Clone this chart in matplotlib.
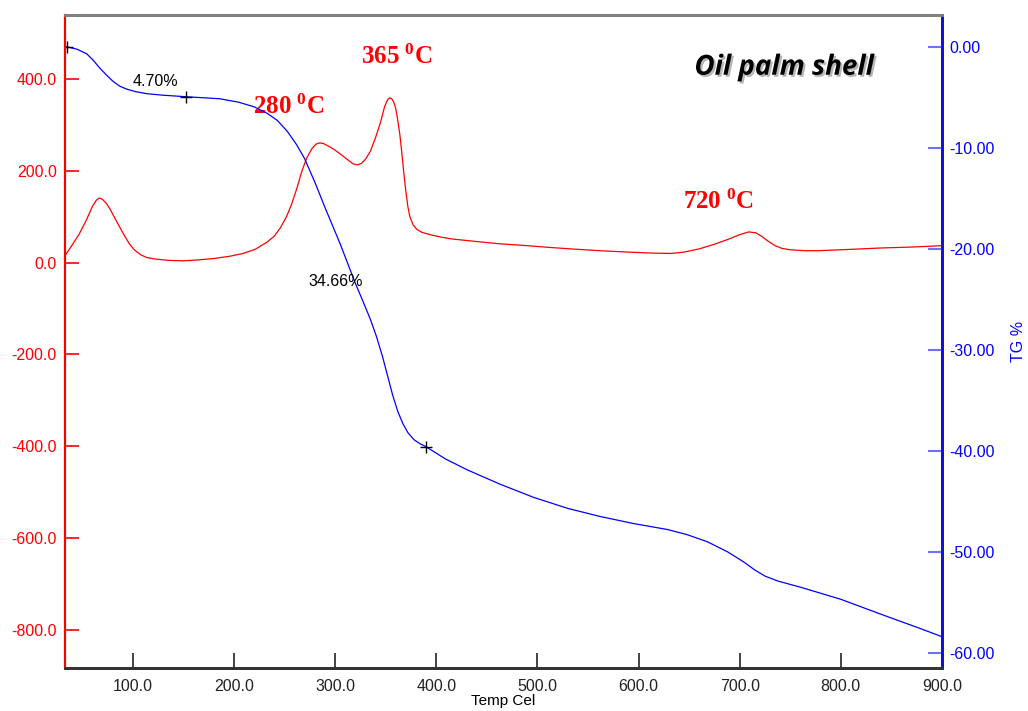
import matplotlib
matplotlib.use("Agg")
import matplotlib.pyplot as plt
import matplotlib.patheffects as pe

# DTA curve (left axis, red)
dta_temp = [33, 40, 47, 54, 60, 64, 67, 70, 74, 78, 82, 87, 92, 97, 102, 108, 114,
            122, 135, 150, 165, 180, 196, 209, 221, 233, 240, 246, 252, 257, 262,
            267, 272, 277, 281, 285, 289, 295, 300, 305, 312, 318, 322, 326, 330,
            335, 340, 345, 349, 352, 354, 356, 358, 360, 362, 364, 366, 368, 370,
            372, 374, 377, 381, 386, 394, 404, 414, 440, 463, 490, 513, 540, 562,
            590, 612, 632, 645, 660, 675, 690, 700, 709, 716, 722, 728, 735, 742,
            750, 765, 777, 810, 840, 870, 900]
dta_val = [15, 38, 62, 92, 122, 136, 141, 138, 129, 115, 98, 78, 58, 40, 27, 17, 11,
           8, 5, 4, 6, 9, 14, 20, 29, 45, 58, 76, 100, 127, 160,
           198, 228, 248, 258, 261, 259, 252, 245, 237, 225, 215, 213, 216, 225,
           243, 272, 306, 340, 355, 359, 357, 350, 336, 310, 280, 240, 195, 155,
           122, 100, 83, 72, 66, 61, 56, 52, 46, 41, 37, 33, 29, 26,
           23, 21, 20, 23, 30, 40, 52, 61, 67, 65, 57, 47, 37, 31,
           28, 26, 26, 29, 32, 34, 37]

# TG curve (right axis, blue)
tg_temp = [34.7, 45, 54.5, 61, 67.3, 74, 80.2, 87, 94.1, 103, 113.9, 130, 152.5,
           186, 205, 220, 233, 243, 253, 262, 270, 280, 290, 305, 320, 328, 335,
           341, 347, 352, 357, 362, 367, 372, 378, 384, 390, 409, 431, 463, 496,
           530, 562, 595, 629, 648, 668, 688, 704, 715, 725, 738, 760, 800, 843,
           876, 900]
tg_val = [0.0, -0.25, -0.7, -1.35, -2.1, -2.8, -3.4, -3.9, -4.2, -4.45, -4.65, -4.8, -4.95,
          -5.15, -5.5, -5.95, -6.6, -7.3, -8.4, -9.7, -11.1, -13.4, -15.9, -19.5, -23.4,
          -25.3, -27.0, -28.7, -30.7, -32.6, -34.5, -36.1, -37.3, -38.2, -38.9, -39.3,
          -39.6, -40.8, -41.9, -43.3, -44.6, -45.7, -46.5, -47.2, -47.8, -48.3, -49.0,
          -50.0, -51.0, -51.8, -52.4, -52.9, -53.5, -54.7, -56.3, -57.5, -58.4]

# step markers on TG curve
mark_temp = [34.7, 152.5, 390]
mark_val = [0.0, -4.95, -39.6]

x_ticks = [100, 200, 300, 400, 500, 600, 700, 800, 900]
left_ticks = [400, 200, 0, -200, -400, -600, -800]
right_ticks = [0, -10, -20, -30, -40, -50, -60]

peaks = [("280", 254, 340), ("365", 361, 448), ("720", 679, 133)]

plt.rcParams['font.family'] = ['Liberation Sans', 'DejaVu Sans']
plt.rcParams['mathtext.fontset'] = 'custom'
plt.rcParams['mathtext.rm'] = 'Liberation Serif:bold'
plt.rcParams['mathtext.it'] = 'Liberation Serif:bold'

fig = plt.figure(figsize=(10.28, 7.11), dpi=100)
ax = fig.add_axes([0.0632, 0.0605, 0.8531, 0.9184])
ax2 = ax.twinx()

ax.plot(dta_temp, dta_val, color='red', lw=0.9)
ax2.plot(tg_temp, tg_val, color='blue', lw=0.9)
ax2.plot(mark_temp, mark_val, '+', color='black', ms=9, mew=1.0)

ax.set_xlim(33, 900)
ax.set_ylim(-882.8, 539.4)
ax2.set_ylim(-61.5, 3.14)

ax.set_xticks(x_ticks)
ax.set_xticklabels(['%.1f' % v for v in x_ticks], fontsize=11.5, color='#222222')
ax.set_yticks(left_ticks)
ax.set_yticklabels(['%.1f' % v for v in left_ticks], fontsize=11.5, color='red')
ax2.set_yticks(right_ticks)
ax2.set_yticklabels(['%.2f' % v for v in right_ticks], fontsize=11.5, color='blue')

ax.tick_params(axis='x', direction='in', length=11, width=1.2, color='#222222', pad=8)
ax.tick_params(axis='y', direction='in', length=10, width=1.2, color='red', pad=6)
ax2.tick_params(axis='y', direction='in', length=10, width=1.5, color='#7070ff', pad=5)

for a in (ax, ax2):
    a.spines['left'].set_color('red')
    a.spines['left'].set_linewidth(1.5)
    a.spines['right'].set_color('#1010dd')
    a.spines['right'].set_linewidth(2)
    a.spines['bottom'].set_color('#333333')
    a.spines['bottom'].set_linewidth(2)
    a.spines['top'].set_color('#808080')
    a.spines['top'].set_linewidth(2)

ax.set_xlabel('Temp Cel', fontsize=11, labelpad=0)
ax2.set_ylabel('TG %', fontsize=11.5, color='blue', labelpad=12)

ax2.text(122, -3.4, '4.70%', fontsize=11.5, ha='center', va='center', color='black')
ax2.text(301, -23.2, '34.66%', fontsize=11.5, ha='center', va='center', color='black')

for label, t, v in peaks:
    ax.text(t, v, label + r' $^{0}$C', fontsize=18, color='red', fontweight='bold',
            family=['Liberation Serif', 'DejaVu Serif'], ha='center', va='center')

ax.text(0.82, 0.92, 'Oil palm shell', transform=ax.transAxes, fontsize=20,
        fontweight='bold', fontstyle='italic', family=['Open Sans', 'DejaVu Sans'],
        ha='center', va='center', color='black',
        path_effects=[pe.withSimplePatchShadow(offset=(1.5, -1.5), shadow_rgbFace='#888888', alpha=0.6)])

fig.savefig('out.png', dpi=100)
